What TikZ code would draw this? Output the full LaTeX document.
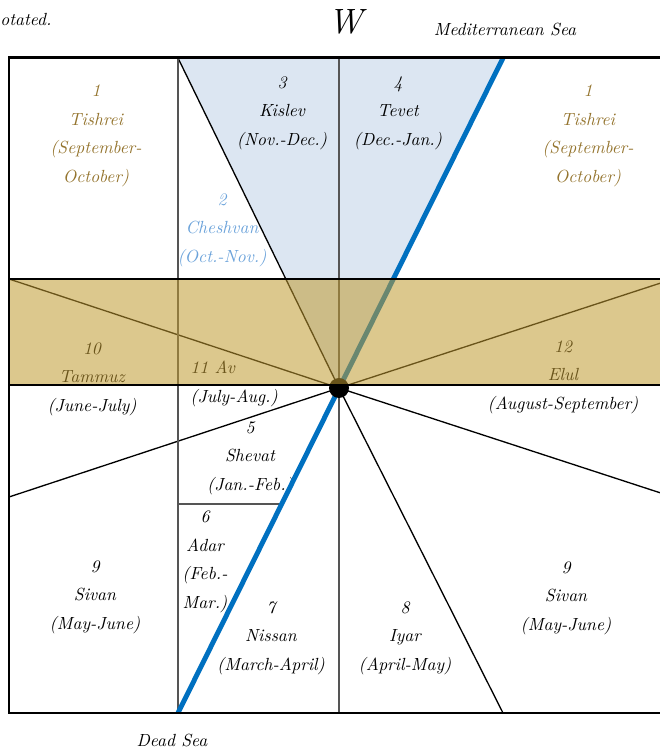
\documentclass[tikz,border=0pt]{standalone}
\usepackage{fontspec}

\definecolor{goldtext}{RGB}{148,116,46}
\definecolor{cheshblue}{RGB}{108,163,218}
\definecolor{seablue}{RGB}{0,112,192}
\definecolor{skyfill}{RGB}{220,230,242}
\definecolor{bandgold}{RGB}{192,154,48}
\definecolor{gridgray}{RGB}{85,85,85}

\begin{document}
\begin{tikzpicture}[
  month/.style={align=center, inner sep=0pt, font=\fontsize{10}{16.2}\selectfont\itshape},
  caption/.style={inner sep=0pt, font=\fontsize{10}{12}\selectfont\itshape},
  thinline/.style={line width=0.75pt},
  gridline/.style={gridgray, line width=1.1pt},
  heavyline/.style={line width=1.7pt},
  sealine/.style={seablue, line width=2.8pt}
]

  \useasboundingbox (-6.78,-7.2) rectangle (6.42,7.76);
  \clip (-6.78,-7.2) rectangle (6.42,7.76);

  % --- punti ---
  \coordinate (c) at (0,0);
  \coordinate (tl) at (-3.22,6.6);
  \coordinate (tm) at (0,6.6);
  \coordinate (tr) at (3.28,6.6);
  \coordinate (bl) at (-3.22,-6.5);
  \coordinate (bm) at (0,-6.5);
  \coordinate (br) at (3.28,-6.5);
  \coordinate (bandL) at (-6.6,2.18);
  \coordinate (bandR) at (6.68,2.18);
  \coordinate (lowL) at (-6.6,-2.18);
  \coordinate (lowR) at (6.68,-2.18);
  \coordinate (adarL) at (-3.22,-2.32);
  \coordinate (adarR) at (-1.15,-2.32);

  % --- triangolo azzurro ---
  \fill[skyfill] (tl) -- (tr) -- (c) -- cycle;

  % --- mesi ---
  \node[month] (kislev) at (-1.14,5.5) {3\\Kislev\\(Nov.-Dec.)};
  \node[month] (tevet) at (1.18,5.5) {4\\Tevet\\(Dec.-Jan.)};
  \node[month, goldtext] (tishreiL) at (-4.86,5.04) {1\\Tishrei\\(September-\\October)};
  \node[month, goldtext] (tishreiR) at (4.98,5.04) {1\\Tishrei\\(September-\\October)};
  \node[month, cheshblue] (cheshvan) at (-2.34,3.16) {2\\Cheshvan\\(Oct.-Nov.)};
  \node[month] (tammuz) at (-4.94,0.18) {10\\Tammuz\\(June-July)};
  \node[month, align=left, anchor=west] (av) at (-2.98,0.08) {11 Av\\(July-Aug.)};
  \node[month] (elul) at (4.48,0.22) {12\\Elul\\(August-September)};
  \node[month] (shevat) at (-1.78,-1.4) {5\\Shevat\\(Jan.-Feb.)};
  \node[month] (adar) at (-2.68,-3.48) {6\\Adar\\(Feb.-\\Mar.)};
  \node[month] (nissan) at (-1.36,-5.0) {7\\Nissan\\(March-April)};
  \node[month] (iyar) at (1.32,-5.0) {8\\Iyar\\(April-May)};
  \node[month] (sivanL) at (-4.88,-4.18) {9\\Sivan\\(May-June)};
  \node[month] (sivanR) at (4.54,-4.2) {9\\Sivan\\(May-June)};

  % --- raggi ---
  \draw[thinline] (tl) -- (c);
  \draw[thinline] (c) -- (bandL);
  \draw[thinline] (c) -- (bandR);
  \draw[thinline] (c) -- (lowL);
  \draw[thinline] (c) -- (lowR);
  \draw[thinline] (c) -- (br);
  \draw[thinline, gridgray] (adarL) -- (adarR);

  % --- verticali ---
  \draw[gridline] (tl) -- (bl);
  \draw[gridline] (tm) -- (bm);

  % --- asse blu ---
  \draw[sealine] (tr) -- (bl);
  \fill (c) circle (0.2);

  % --- fascia dorata ---
  \fill[bandgold, opacity=0.55] (-6.6,0.06) rectangle (bandR);
  \draw[heavyline] (bandL) -- (bandR);
  \draw[heavyline] (-6.6,0.06) -- (6.68,0.06);

  % --- cornice ---
  \draw[heavyline] (-6.6,-6.5) rectangle (6.68,6.6);

  % --- scritte ---
  \node[caption, font=\fontsize{20}{24}\selectfont\itshape] (west) at (0.14,7.32) {W};
  \node[caption] (medsea) at (3.32,7.16) {Mediterranean Sea};
  \node[caption] (deadsea) at (-3.34,-7.04) {Dead Sea};
  \node[caption, anchor=west] (note) at (-6.78,7.36) {otated.};

\end{tikzpicture}
\end{document}
